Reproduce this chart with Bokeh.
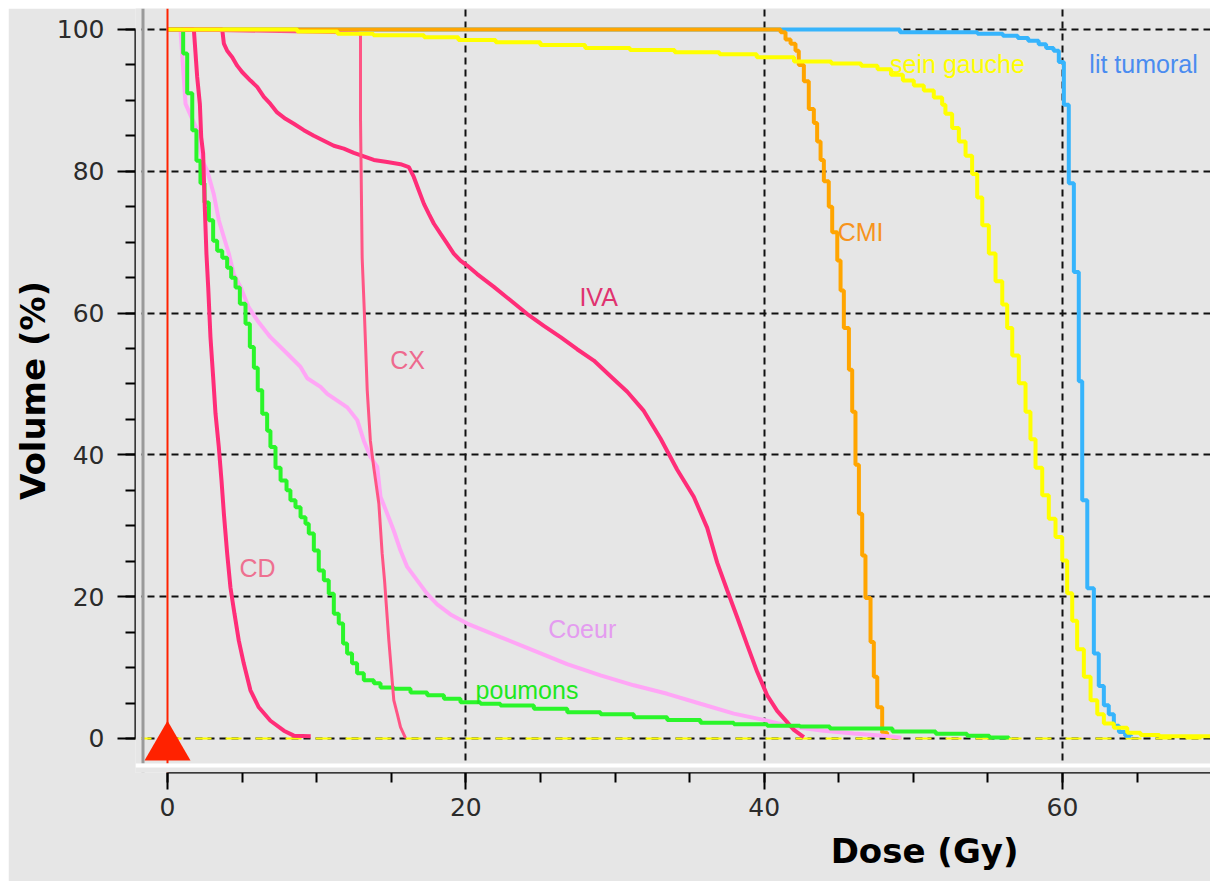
from bokeh.plotting import figure
from bokeh.models import FixedTicker, Span, BoxAnnotation, Label, Range1d, Title
from bokeh.embed import file_html
from bokeh.resources import INLINE

# ---------------- data (dose in Gy, volume in %) ----------------
x_major = [0, 20, 40, 60]
x_minor = [5 * i for i in range(15)]
y_major = [0, 20, 40, 60, 80, 100]
y_minor = [5 * i for i in range(21)]
x_grid = [20, 40, 60]

lit_dose = [0, 49.1, 54.3, 56.0, 57.0, 57.7, 58.4, 58.9, 59.4, 59.75, 60.09, 60.42,
            60.76, 61.09, 61.32, 61.66, 62.1, 62.43, 62.77, 63.1, 63.44, 63.78, 64.2, 64.6]
lit_vol = [100, 99.6, 99.4, 99.1, 98.8, 98.4, 97.9, 97.4, 97.0, 95.4, 89.4, 78.3,
           65.8, 50.4, 33.6, 21.2, 12.0, 7.4, 4.7, 3.4, 1.8, 0.9, 0.4, 0.3]

cmi_dose = [0, 40.42, 41.1, 41.43, 41.77, 42.1, 42.32, 42.66, 42.99, 43.33, 43.55, 43.78,
            44.0, 44.33, 44.56, 44.9, 45.12, 45.34, 45.68, 45.9, 46.12, 46.35, 46.57,
            46.79, 47.13, 47.35, 47.58, 47.91, 48.24]
cmi_vol = [100, 100, 99.6, 98.6, 98.0, 97.0, 95.0, 92.7, 88.8, 86.8, 84.2, 81.6,
           78.6, 75.0, 71.4, 67.4, 63.2, 57.9, 52.0, 46.1, 38.6, 31.7, 25.8,
           19.8, 13.6, 8.7, 4.4, 0.8, 0.5]

coeur_dose = [0, 0.87, 1.21, 1.99, 2.33, 2.66, 3.1, 3.44, 3.78, 4.11, 4.44, 4.89, 5.45,
              6.01, 6.9, 8.02, 8.92, 9.37, 10.26, 10.71, 12.05, 12.72, 13.16, 13.61,
              14.06, 14.28, 14.73, 15.17, 15.62, 16.07, 16.74, 17.41, 18.08, 18.97,
              20.09, 22.32, 24.56, 26.79, 29.03, 31.26, 33.5, 35.73, 37.97, 40.2,
              42.0, 44.0, 46.0, 48.0, 49.2]
coeur_vol = [100, 100, 89.5, 85.8, 81.5, 80.1, 76.8, 73.1, 70.7, 68.4, 65.5, 63.7, 60.8,
             59.0, 56.6, 54.3, 52.4, 50.8, 49.6, 48.6, 46.7, 44.9, 42.0, 39.7,
             38.3, 34.1, 31.7, 29.3, 26.5, 24.2, 22.3, 20.4, 18.9, 17.5,
             16.2, 14.3, 12.4, 10.5, 8.9, 7.5, 6.3, 4.9, 3.5, 2.5,
             1.6, 1.1, 0.7, 0.4, 0.1]

iva_dose = [0, 3.67, 3.78, 4.0, 4.34, 4.67, 5.0, 5.56, 6.01, 6.46, 6.9, 7.35, 7.91, 8.47,
            9.14, 9.81, 10.48, 11.15, 11.82, 12.49, 13.16, 13.83, 14.73, 15.62, 16.18,
            16.51, 16.85, 17.19, 17.52, 17.86, 18.3, 18.75, 19.19, 19.64, 20.09, 20.76,
            21.88, 22.99, 24.1, 25.23, 26.35, 27.46, 28.58, 29.7, 30.82, 31.93, 33.05,
            34.17, 35.28, 36.18, 36.85, 37.52, 38.19, 38.86, 39.53, 40.2, 40.87, 41.54,
            41.99, 42.66]
iva_vol = [100, 100, 98.0, 97.0, 96.1, 94.9, 94.0, 92.8, 91.9, 90.5, 89.5, 88.3, 87.4, 86.7,
           85.8, 85.0, 84.3, 83.6, 83.2, 82.6, 82.1, 81.6, 81.3, 81.0, 80.6,
           79.2, 77.3, 75.4, 74.0, 72.6, 71.2, 69.8, 68.4, 67.4, 66.7, 65.5,
           63.7, 61.8, 59.9, 58.2, 56.6, 54.9, 53.3, 51.1, 48.9, 46.2, 42.3,
           37.9, 34.1, 29.7, 24.8, 20.9, 17.1, 13.2, 9.4, 6.1, 3.9, 2.3,
           1.2, 0.2]

poumons_dose = [0, 1.05, 1.32, 1.66, 1.94, 2.21, 2.48, 2.77, 3.06, 3.33, 3.67, 4.0, 4.27,
                4.56, 4.85, 5.23, 5.52, 5.79, 6.05, 6.35, 6.68, 6.9, 7.24, 7.58, 7.98,
                8.24, 8.58, 8.92, 9.25, 9.47, 9.81, 10.14, 10.48, 10.81, 11.15, 11.48,
                11.77, 12.04, 12.37, 12.71, 13.16, 13.83, 14.28, 15.17, 16.29, 17.41,
                18.53, 19.64, 20.98, 22.32, 24.56, 26.8, 29.03, 31.26, 33.5, 35.73,
                37.97, 40.2, 42.4, 44.4, 48.6, 51.5, 53.6, 55.1, 56.4]
poumons_vol = [100, 96.6, 91.0, 85.8, 81.5, 78.3, 75.6, 73.1, 70.2, 68.8, 67.8, 66.4, 65.0,
               63.6, 61.3, 58.5, 55.2, 52.3, 49.1, 45.8, 43.4, 41.1, 38.2, 36.4, 35.0,
               33.6, 32.6, 31.2, 30.3, 28.9, 26.5, 23.7, 22.3, 20.4, 17.6, 16.2,
               13.4, 12.0, 10.6, 9.2, 8.2, 7.8, 7.2, 7.0, 6.5, 6.1,
               5.6, 5.1, 4.9, 4.65, 4.2, 3.7, 3.4, 3.0, 2.6, 2.2,
               2.0, 1.8, 1.7, 1.4, 1.0, 0.66, 0.4, 0.15, 0.1]

cx_dose = [0, 12.8, 12.94, 12.94, 13.05, 13.2, 13.39, 13.6, 13.83, 14.17, 14.39, 14.55,
           14.84, 15.06, 15.17, 15.4, 15.62, 15.95]
cx_vol = [100, 99.5, 99.2, 87.2, 67.8, 59.9, 49.1, 42.0, 38.2, 33.1, 26.1, 22.3,
          13.8, 8.2, 5.4, 3.5, 1.6, 0.1]

cd_dose = [0, 1.7, 1.77, 1.99, 2.17, 2.26, 2.39, 2.5, 2.61, 2.73, 2.88, 3.06, 3.22, 3.44,
           3.62, 3.78, 4.0, 4.22, 4.49, 4.78, 5.11, 5.56, 6.12, 6.9, 7.8, 8.47, 9.6]
cd_vol = [100, 100, 99.9, 93.3, 89.5, 84.8, 82.5, 74.9, 68.4, 63.6, 56.6, 51.0, 45.8, 41.1,
          36.4, 31.7, 26.1, 21.3, 17.6, 13.8, 10.6, 6.8, 4.4, 2.5, 1.1, 0.4, 0.3]

sein_dose = [0, 8.7, 11.4, 13.8, 17.2, 19.5, 22, 25, 28, 31, 34, 37, 39.5, 42, 44.5, 46.5,
             47.6, 48.5, 49.3, 50.03, 50.7, 51.37, 51.93, 52.15, 52.6, 53.05, 53.5, 53.94,
             54.28, 54.62, 55.06, 55.51, 55.96, 56.29, 56.63, 57.07, 57.52, 57.85, 58.19,
             58.64, 59.08, 59.53, 59.98, 60.31, 60.65, 60.98, 61.43, 61.88, 62.33, 62.77,
             63.44, 64.34, 65.23, 66.5, 70]
sein_vol = [100, 99.7, 99.4, 99.2, 98.9, 98.5, 98.2, 97.8, 97.4, 97.1, 96.8, 96.5, 96.1,
            95.5, 95.2, 94.9, 94.4, 93.6, 92.8, 92.1, 91.4, 90.4, 89.4, 88.1, 86.1, 84.2,
            82.2, 79.6, 76.3, 72.4, 68.4, 64.5, 61.2, 57.9, 54.0, 50.1, 46.1, 42.2, 38.2,
            34.3, 31.0, 28.4, 25.1, 20.5, 16.6, 12.6, 8.7, 5.4, 3.4, 2.1,
            1.5, 0.8, 0.5, 0.3, 0.3]

marker_dose = [0]
marker_vol = [-1.23]

labels = ["sein gauche", "lit tumoral", "CMI", "IVA", "CX", "CD", "Coeur", "poumons"]
label_x = [52.96, 65.43, 46.46, 28.9, 16.09, 6.03, 27.8, 24.1]
label_y = [95.2, 95.2, 71.4, 62.2, 53.4, 24.0, 15.4, 6.9]
label_colors = ["#ffff00", "#4a8cf0", "#f7941d", "#e03370", "#ee6a8e", "#ee7090",
                "#e49cf0", "#1ee81e"]

# ---------------- figure ----------------
GRAY = "#e6e6e6"
p = figure(width=1202, height=873, output_backend="svg", toolbar_location=None, title=None,
           x_range=Range1d(-2.145, 69.92), y_range=Range1d(-4.80, 102.96),
           min_border_left=127, min_border_right=0, min_border_top=0, min_border_bottom=109,
           background_fill_color=GRAY, border_fill_color=GRAY)
p.margin = (8, 0, 0, 8)
p.outline_line_color = None

p.xaxis.ticker = FixedTicker(ticks=x_major, minor_ticks=x_minor)
p.yaxis.ticker = FixedTicker(ticks=y_major, minor_ticks=y_minor)
p.xaxis.bounds = (0, 70)
p.yaxis.bounds = (0, 100)
for ax in (p.xaxis[0], p.yaxis[0]):
    ax.axis_line_color = "black"
    ax.axis_line_width = 2
    ax.major_tick_line_color = "black"
    ax.major_tick_line_width = 2
    ax.minor_tick_line_color = "black"
    ax.minor_tick_line_width = 2
    ax.major_tick_in = 0
    ax.minor_tick_in = 0
    ax.major_label_text_font = "DejaVu Sans"
    ax.major_label_text_font_size = "25px"
    ax.major_label_text_color = "#2b2b2b"
p.xaxis.major_tick_out = 17
p.xaxis.minor_tick_out = 10
p.yaxis.major_tick_out = 18
p.yaxis.minor_tick_out = 10
p.xaxis.major_label_standoff = 8
p.yaxis.major_label_standoff = 13

# y axis title
p.yaxis.axis_label = "Volume (%)"
p.yaxis.axis_label_text_font = "DejaVu Sans"
p.yaxis.axis_label_text_font_style = "bold"
p.yaxis.axis_label_text_font_size = "34px"
p.yaxis.axis_label_text_color = "black"
p.yaxis.axis_label_standoff = 1

# x axis title, right-shifted like the reference
p.add_layout(Title(text="Dose (Gy)", align="right", offset=192, standoff=20,
                   text_line_height=0.7,
                   text_font="DejaVu Sans", text_font_style="bold",
                   text_font_size="34px", text_color="black"), "below")

p.xgrid.ticker = FixedTicker(ticks=x_grid)
p.ygrid.ticker = FixedTicker(ticks=y_major)
for g in (p.xgrid[0], p.ygrid[0]):
    g.grid_line_color = "#111111"
    g.grid_line_width = 2
    g.grid_line_dash = "7 5"

# threshold dashed line at 0 %
p.add_layout(Span(location=0, dimension="width", line_color="#ffff00", line_width=2,
                  line_dash="16 14", level="underlay"))

# ---------------- curves ----------------
p.step(lit_dose, lit_vol, mode="after", line_color="#36b4fc", line_width=4)
p.step(cmi_dose, cmi_vol, mode="after", line_color="#ffa500", line_width=4)
p.line(coeur_dose, coeur_vol, line_color="#ffa6f6", line_width=4)
p.line(iva_dose, iva_vol, line_color="#ff2d78", line_width=4)
p.step(poumons_dose, poumons_vol, mode="after", line_color="#2af52a", line_width=4)
p.line(cx_dose, cx_vol, line_color="#ff5585", line_width=3)
p.line(cd_dose, cd_vol, line_color="#ff2d78", line_width=4)
p.step(sein_dose, sein_vol, mode="after", line_color="#ffff00", line_width=4)

p.scatter(marker_dose, marker_vol, marker="triangle", size=46,
          fill_color="#ff2200", line_color=None)

# red reference line at 0 Gy
p.add_layout(Span(location=0, dimension="height", line_color="#ff2200", line_width=2))

# frame decorations (etched border)
p.add_layout(BoxAnnotation(right=-1.743, fill_color=GRAY, fill_alpha=1, line_alpha=0))
p.add_layout(Span(location=-1.642, dimension="height", line_color="#9a9a9a", line_width=3))
p.add_layout(BoxAnnotation(top=-3.53, fill_color=GRAY, fill_alpha=1, line_alpha=0))
p.add_layout(Span(location=-3.81, dimension="width", line_color="white", line_width=4))

# curve labels
for t, lx, ly, c in zip(labels, label_x, label_y, label_colors):
    p.add_layout(Label(x=lx, y=ly, text=t, text_color=c, text_align="center",
                       text_baseline="alphabetic", text_font="Liberation Sans",
                       text_font_size="25px"))

open("out.html", "w").write(file_html(p, INLINE))
